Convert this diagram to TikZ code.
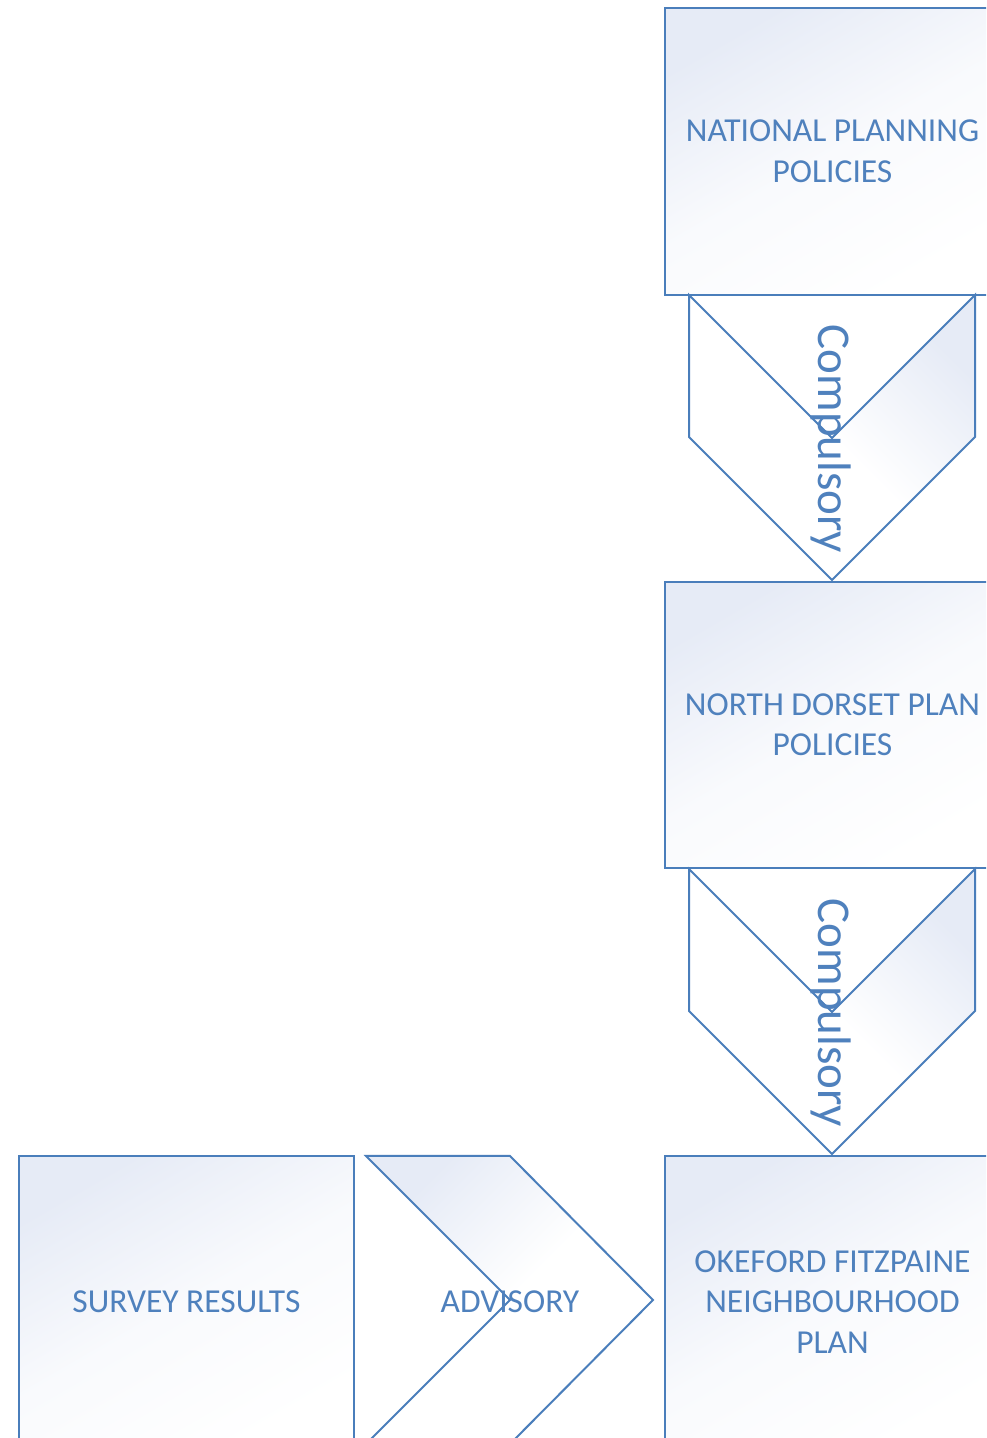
\documentclass[tikz,border=0pt]{standalone}
\usepackage{fontspec}
\setmainfont{Carlito}
\definecolor{lineblue}{RGB}{74,126,187}
\definecolor{textblue}{RGB}{79,129,189}
\definecolor{gradblue}{RGB}{230,235,246}
\tikzset{
  box/.style={draw=lineblue, line width=2.2pt, inner sep=0pt, minimum width=335pt,
    text=textblue, align=center, font=\fontsize{33.5}{40.5}\selectfont,
    top color=gradblue, bottom color=white, middle color=gradblue!25!white, shading angle=30},
  chevdown/.style={draw=lineblue, line width=2pt, line join=miter,
    top color=gradblue, bottom color=white, middle color=white, shading angle=-45},
  chevright/.style={draw=lineblue, line width=2pt, line join=miter,
    top color=gradblue, bottom color=white, middle color=white, shading angle=45},
  comp/.style={text=textblue, inner sep=0pt, font=\fontsize{47}{56}\selectfont, rotate=-90, anchor=base},
  lbl/.style={text=textblue, inner sep=0pt, font=\fontsize{33.5}{40.5}\selectfont}
}
\begin{document}
\begin{tikzpicture}[x=1pt,y=1pt]
\useasboundingbox (0,0) rectangle (986,1438);
\clip (0,0) rectangle (986,1438);
\fill[white] (0,0) rectangle (986,1438);
% boxes
\node[box, minimum height=287pt] (nat) at (832.5,1286.5) {NATIONAL PLANNING\\POLICIES};
\node[box, minimum height=286pt] (nd) at (832.5,713) {NORTH DORSET PLAN\\POLICIES};
\node[box, minimum height=292pt] (ok) at (832.5,136) {OKEFORD FITZPAINE\\NEIGHBOURHOOD\\PLAN};
\node[box, minimum height=292pt, minimum width=335pt] (sv) at (186.5,136) {SURVEY RESULTS};
% chevron 1
\coordinate (a1) at (689,1143); \coordinate (a2) at (832,1000); \coordinate (a3) at (975,1143);
\coordinate (a4) at (975,1001); \coordinate (a5) at (832,858); \coordinate (a6) at (689,1001);
\path[chevdown] (a1) -- (a2) -- (a3) -- (a4) -- (a5) -- (a6) -- cycle;
\node[comp] (c1) at (818,999) {Compulsory};
% chevron 2
\coordinate (b1) at (689,569); \coordinate (b2) at (832,426); \coordinate (b3) at (975,569);
\coordinate (b4) at (975,427); \coordinate (b5) at (832,284); \coordinate (b6) at (689,427);
\path[chevdown] (b1) -- (b2) -- (b3) -- (b4) -- (b5) -- (b6) -- cycle;
\node[comp] (c2) at (818,425) {Compulsory};
% right chevron
\coordinate (r1) at (366,282); \coordinate (r2) at (510,282); \coordinate (r3) at (653,138);
\coordinate (r4) at (510,-6); \coordinate (r5) at (366,-6); \coordinate (r6) at (510,138);
\path[chevright] (r1) -- (r2) -- (r3) -- (r4) -- (r5) -- (r6) -- cycle;
\node[lbl] (adv) at (510,136) {ADVISORY};
\end{tikzpicture}
\end{document}
